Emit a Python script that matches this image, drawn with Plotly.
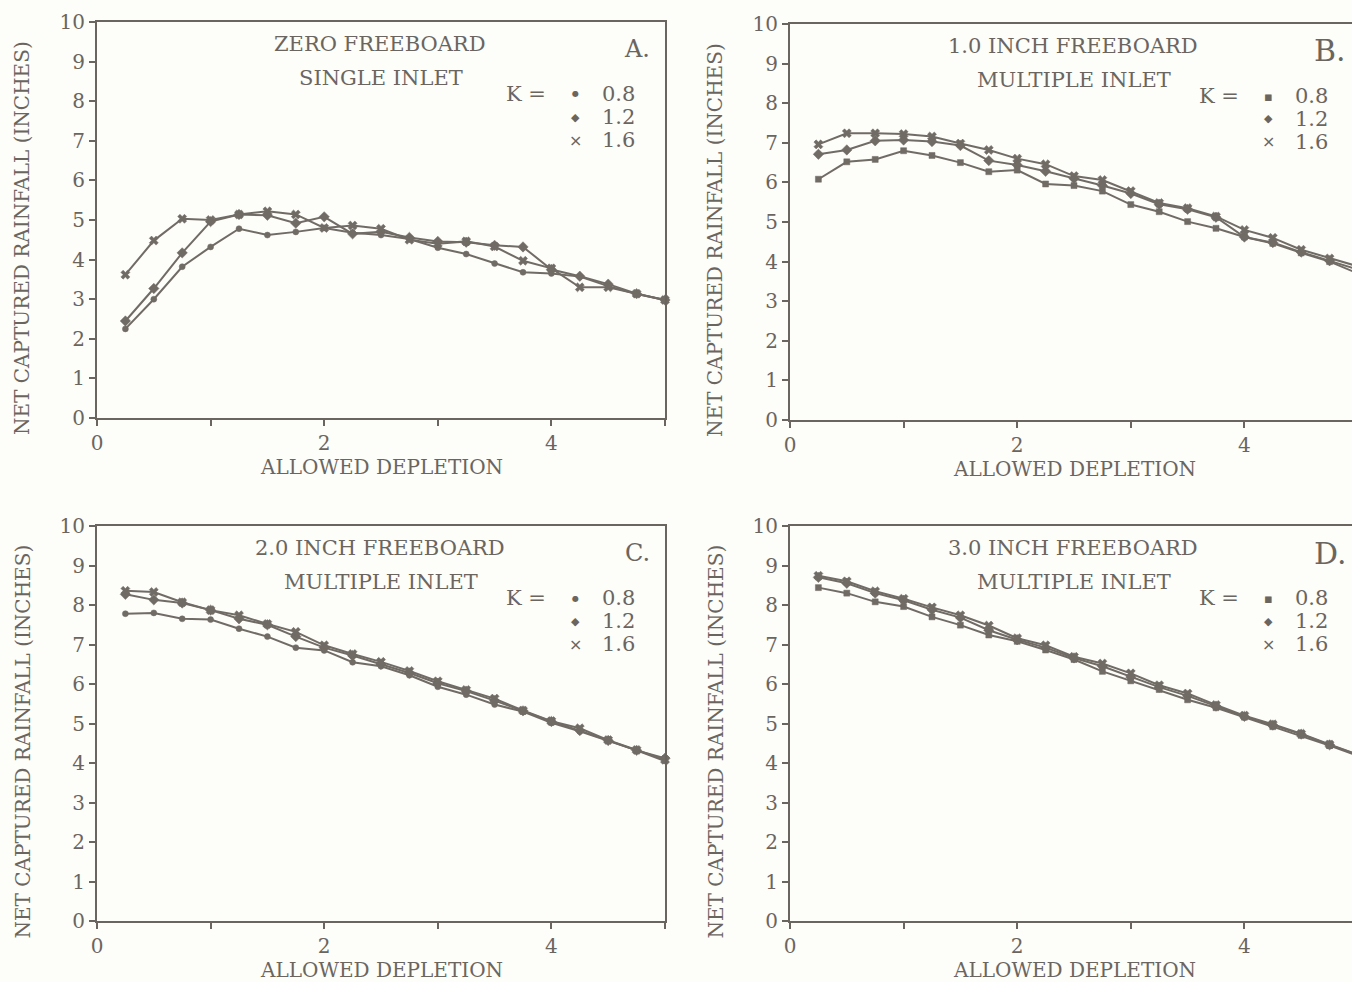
import plotly.graph_objects as go

# ---------------- data ----------------
depletion = [0.25, 0.5, 0.75, 1.0, 1.25, 1.5, 1.75, 2.0, 2.25, 2.5,
             2.75, 3.0, 3.25, 3.5, 3.75, 4.0, 4.25, 4.5, 4.75, 5.0]

k_labels = ["0.8", "1.2", "1.6"]

A_k08 = [2.25, 3.00, 3.82, 4.32, 4.78, 4.62, 4.70, 4.80, 4.68, 4.62, 4.52, 4.30, 4.14, 3.90, 3.68, 3.65, 3.57, 3.33, 3.13, 2.98]
A_k12 = [2.45, 3.27, 4.17, 4.96, 5.14, 5.12, 4.92, 5.08, 4.65, 4.70, 4.56, 4.46, 4.44, 4.36, 4.32, 3.75, 3.58, 3.38, 3.14, 2.98]
A_k16 = [3.62, 4.48, 5.03, 5.00, 5.14, 5.22, 5.14, 4.80, 4.86, 4.78, 4.50, 4.40, 4.46, 4.33, 3.97, 3.78, 3.30, 3.30, 3.14, 2.98]

B_k08 = [6.08, 6.52, 6.58, 6.80, 6.68, 6.50, 6.27, 6.31, 5.96, 5.92, 5.78, 5.44, 5.26, 5.01, 4.84, 4.62, 4.46, 4.22, 4.00, 3.70]
B_k12 = [6.71, 6.82, 7.05, 7.07, 7.03, 6.93, 6.55, 6.44, 6.28, 6.10, 5.92, 5.72, 5.45, 5.32, 5.12, 4.62, 4.48, 4.24, 4.02, 3.80]
B_k16 = [6.96, 7.24, 7.24, 7.22, 7.16, 6.98, 6.82, 6.60, 6.46, 6.16, 6.06, 5.78, 5.48, 5.35, 5.14, 4.80, 4.60, 4.30, 4.08, 3.88]

C_k08 = [7.78, 7.80, 7.65, 7.63, 7.40, 7.20, 6.92, 6.85, 6.55, 6.45, 6.22, 5.93, 5.73, 5.48, 5.30, 5.02, 4.80, 4.56, 4.32, 4.05]
C_k12 = [8.27, 8.13, 8.05, 7.87, 7.65, 7.50, 7.20, 6.92, 6.72, 6.50, 6.28, 6.02, 5.82, 5.58, 5.32, 5.05, 4.82, 4.57, 4.32, 4.12]
C_k16 = [8.36, 8.33, 8.07, 7.87, 7.74, 7.52, 7.32, 6.98, 6.76, 6.56, 6.33, 6.07, 5.85, 5.63, 5.33, 5.06, 4.88, 4.58, 4.33, 4.08]

D_k08 = [8.44, 8.30, 8.08, 7.96, 7.70, 7.49, 7.24, 7.08, 6.86, 6.62, 6.32, 6.08, 5.86, 5.60, 5.40, 5.16, 4.92, 4.70, 4.44, 4.18]
D_k12 = [8.70, 8.55, 8.30, 8.12, 7.88, 7.68, 7.36, 7.12, 6.92, 6.66, 6.45, 6.18, 5.92, 5.70, 5.44, 5.18, 4.96, 4.73, 4.46, 4.20]
D_k16 = [8.74, 8.60, 8.35, 8.16, 7.94, 7.74, 7.48, 7.16, 6.98, 6.69, 6.52, 6.27, 5.97, 5.76, 5.47, 5.20, 4.98, 4.74, 4.47, 4.21]

panel_letters = ["A.", "B.", "C.", "D."]
panel_line1 = ["ZERO FREEBOARD", "1.0 INCH FREEBOARD", "2.0 INCH FREEBOARD", "3.0 INCH FREEBOARD"]
panel_line2 = ["SINGLE INLET", "MULTIPLE INLET", "MULTIPLE INLET", "MULTIPLE INLET"]
y_ticks = [0, 1, 2, 3, 4, 5, 6, 7, 8, 9, 10]
x_ticks = [0, 1, 2, 3, 4, 5]
x_ticktext = ["0", "", "2", "", "4", ""]

# ---------------- style ----------------
W, H = 1352, 982
INK = "#6b6560"
LINE = "#716b65"
BG = "#fdfdf9"
FONT = "DejaVu Serif"

def px_x(p):
    return p / W

def px_y(p):
    return 1 - p / H

# panel geometry in pixels: (left, right, top, bottom, xmax)
panels = [
    (97, 665, 22, 418, 5.0),
    (790, 1352, 24, 420, (1352 - 790) / 113.6),
    (97, 665, 526, 921, 5.0),
    (790, 1352, 526, 921, (1352 - 790) / 113.6),
]
series = [
    (A_k08, A_k12, A_k16),
    (B_k08, B_k12, B_k16),
    (C_k08, C_k12, C_k16),
    (D_k08, D_k12, D_k16),
]
symbols = [("circle", 6), ("diamond", 8), ("x", 8)]
letter_sizes = [24, 30, 24, 30]

fig = go.Figure()
annotations = []

for i, ((l, r, t, b, xmax), data) in enumerate(zip(panels, series)):
    xa = "x" if i == 0 else f"x{i+1}"
    ya = "y" if i == 0 else f"y{i+1}"
    right_side = i % 2 == 1
    for vals, (sym, sz), k in zip(data, symbols, k_labels):
        fig.add_trace(go.Scatter(
            x=depletion, y=vals, xaxis=xa, yaxis=ya, mode="lines+markers",
            line=dict(color=LINE, width=2),
            marker=dict(symbol=("square" if (right_side and sym == "circle") else sym),
                        size=sz, color=LINE, line=dict(width=0.5, color=LINE)),
            name=f"K = {k}", showlegend=False, cliponaxis=right_side,
        ))
    fig.update_layout(**{
        ("xaxis" if i == 0 else f"xaxis{i+1}"): dict(
            domain=[px_x(l), px_x(r)], anchor=ya, range=[0, xmax],
            tickmode="array", tickvals=x_ticks, ticktext=x_ticktext,
            ticks="outside", ticklen=6, tickwidth=2, tickcolor=INK,
            showline=True, linecolor=INK, linewidth=2, mirror=True,
            showgrid=False, zeroline=False, automargin=False, fixedrange=True,
            tickfont=dict(family=FONT, size=20, color=INK),
        ),
        ("yaxis" if i == 0 else f"yaxis{i+1}"): dict(
            domain=[px_y(b), px_y(t)], anchor=xa, range=[0, 10],
            tickmode="array", tickvals=y_ticks,
            ticks="outside", ticklen=6, tickwidth=2, tickcolor=INK,
            showline=True, linecolor=INK, linewidth=2, mirror=not right_side,
            showgrid=False, zeroline=False, automargin=False, fixedrange=True,
            tickfont=dict(family=FONT, size=20, color=INK),
        ),
    })

    # axis titles
    annotations.append(dict(
        x=px_x(l - 75), y=px_y((t + b) / 2 + 18), xref="paper", yref="paper",
        text="NET CAPTURED RAINFALL (INCHES)", textangle=-90, showarrow=False,
        font=dict(family=FONT, size=20, color=INK), xanchor="center", yanchor="middle"))
    annotations.append(dict(
        x=px_x(l + 284), y=px_y(b + 49), xref="paper", yref="paper",
        text="ALLOWED DEPLETION", showarrow=False,
        font=dict(family=FONT, size=20, color=INK), xanchor="center", yanchor="middle"))

    # in-panel labels
    annotations.append(dict(
        x=px_x(l + 283), y=px_y(t + 22), xref="paper", yref="paper",
        text=panel_line1[i], showarrow=False,
        font=dict(family=FONT, size=21, color=INK), xanchor="center", yanchor="middle"))
    annotations.append(dict(
        x=px_x(l + 284), y=px_y(t + 56), xref="paper", yref="paper",
        text=panel_line2[i], showarrow=False,
        font=dict(family=FONT, size=21, color=INK), xanchor="center", yanchor="middle"))
    annotations.append(dict(
        x=px_x(l + 540), y=px_y(t + 27), xref="paper", yref="paper",
        text=panel_letters[i], showarrow=False,
        font=dict(family=FONT, size=letter_sizes[i], color=INK), xanchor="center", yanchor="middle"))
    # K legend
    annotations.append(dict(
        x=px_x(l + 429), y=px_y(t + 72), xref="paper", yref="paper",
        text="K =", showarrow=False,
        font=dict(family=FONT, size=21, color=INK), xanchor="center", yanchor="middle"))
    glyphs = [("\u25aa", 13) if right_side else ("\u25cf", 8), ("\u25c6", 11), ("\u00d7", 16)]
    for j, ((g, gs), k) in enumerate(zip(glyphs, k_labels)):
        annotations.append(dict(
            x=px_x(l + 478), y=px_y(t + 72 + 23 * j), xref="paper", yref="paper",
            text=g, showarrow=False,
            font=dict(family="DejaVu Sans", size=gs, color=INK), xanchor="center", yanchor="middle"))
        annotations.append(dict(
            x=px_x(l + 521), y=px_y(t + 72 + 23 * j), xref="paper", yref="paper",
            text=k, showarrow=False,
            font=dict(family=FONT, size=21, color=INK), xanchor="center", yanchor="middle"))

fig.update_layout(
    width=W, height=H, margin=dict(l=0, r=0, t=0, b=0, autoexpand=False),
    paper_bgcolor=BG, plot_bgcolor=BG,
    annotations=annotations, showlegend=False,
)

fig.write_html(
    "out.html",
    config={"displayModeBar": False, "staticPlot": True},
    post_script="document.body.style.margin='0';document.body.style.padding='0';"
                "document.body.style.overflow='hidden';"
                "document.documentElement.style.overflow='hidden';",
)
